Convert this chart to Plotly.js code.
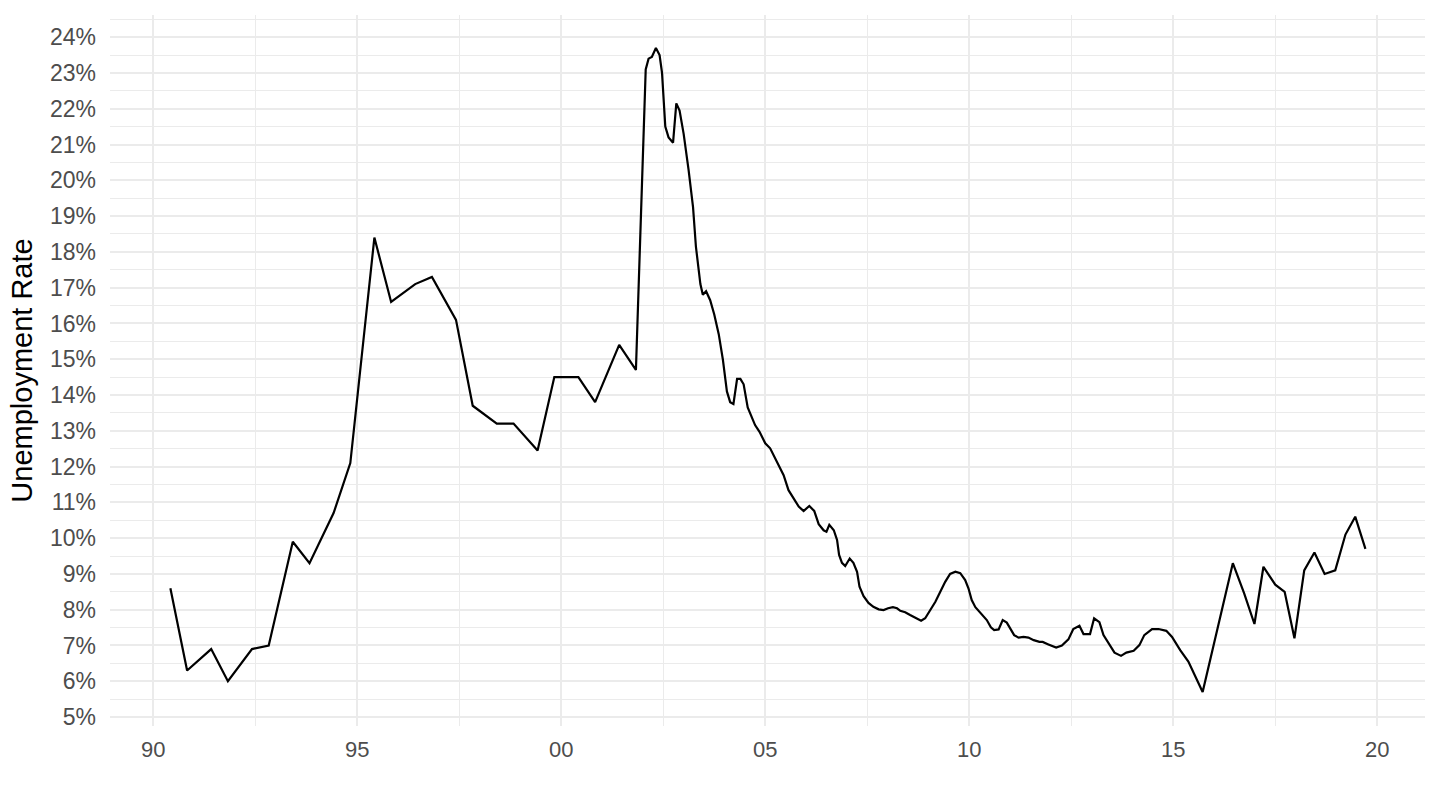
<!DOCTYPE html>
<html>
<head>
<meta charset="utf-8">
<script src="https://cdn.plot.ly/plotly-3.0.1.min.js"></script>
<style>
  html, body { margin: 0; padding: 0; background: #ffffff; }
  #chart { width: 1440px; height: 810px; }
</style>
</head>
<body>
<div id="chart"></div>
<script>
// Decimal-year positions of each observation
const years = [
  1990.42, 1990.83, 1991.42, 1991.83, 1992.42, 1992.83, 1993.42, 1993.83,
  1994.42, 1994.83, 1995.42, 1995.83, 1996.42, 1996.83, 1997.42, 1997.83,
  1998.42, 1998.83, 1999.42, 1999.83, 2000.42, 2000.83, 2001.42, 2001.83,
  2002.07, 2002.14, 2002.22, 2002.32, 2002.41, 2002.47, 2002.55, 2002.63,
  2002.74, 2002.82, 2002.90, 2003.00, 2003.12, 2003.23, 2003.30, 2003.34,
  2003.41, 2003.47, 2003.55, 2003.65, 2003.75, 2003.86, 2003.96, 2004.06,
  2004.14, 2004.22, 2004.31, 2004.39, 2004.47, 2004.57, 2004.75, 2004.86,
  2005.00, 2005.12, 2005.29, 2005.45, 2005.57, 2005.69, 2005.82, 2005.94,
  2006.08, 2006.20, 2006.31, 2006.43, 2006.50, 2006.57, 2006.68, 2006.76,
  2006.81, 2006.88, 2006.96, 2007.07, 2007.16, 2007.25, 2007.31, 2007.41,
  2007.53, 2007.65, 2007.78, 2007.90, 2008.01, 2008.13, 2008.23, 2008.31,
  2008.43, 2008.55, 2008.68, 2008.82, 2008.92, 2009.04, 2009.17, 2009.29,
  2009.41, 2009.53, 2009.66, 2009.78, 2009.90, 2009.98, 2010.06, 2010.15,
  2010.27, 2010.43, 2010.53, 2010.61, 2010.72, 2010.82, 2010.92, 2011.01,
  2011.10, 2011.21, 2011.33, 2011.45, 2011.58, 2011.72, 2011.80, 2011.94,
  2012.13, 2012.27, 2012.43, 2012.55, 2012.70, 2012.80, 2012.96, 2013.06,
  2013.19, 2013.29, 2013.41, 2013.56, 2013.72, 2013.85, 2014.03, 2014.17,
  2014.29, 2014.48, 2014.64, 2014.83, 2014.97, 2015.17, 2015.37, 2015.51,
  2015.72, 2016.46, 2016.74, 2016.99, 2017.21, 2017.50, 2017.73, 2017.97,
  2018.21, 2018.46, 2018.71, 2018.97, 2019.22, 2019.46, 2019.71
];

// Unemployment rate, percent
const unemployment = [
  8.6, 6.3, 6.9, 6.0, 6.9, 7.0, 9.9, 9.3,
  10.7, 12.1, 18.4, 16.6, 17.1, 17.3, 16.1, 13.7,
  13.2, 13.2, 12.45, 14.5, 14.5, 13.8, 15.4, 14.7,
  23.1, 23.4, 23.45, 23.7, 23.5, 23.0, 21.5, 21.2,
  21.05, 22.15, 21.95, 21.3, 20.3, 19.25, 18.15, 17.7,
  17.1, 16.8, 16.9, 16.65, 16.25, 15.7, 15.0, 14.1,
  13.8, 13.75, 14.45, 14.45, 14.3, 13.65, 13.16, 12.97,
  12.65, 12.51, 12.13, 11.76, 11.34, 11.11, 10.88, 10.76,
  10.90, 10.76, 10.39, 10.22, 10.18, 10.37, 10.22, 9.95,
  9.53, 9.31, 9.22, 9.43, 9.31, 9.06, 8.64, 8.38,
  8.19, 8.08, 8.01, 7.99, 8.04, 8.07, 8.04, 7.97,
  7.93, 7.85, 7.77, 7.69, 7.76, 7.97, 8.22, 8.50,
  8.78, 9.00, 9.06, 9.02, 8.83, 8.60, 8.27, 8.07,
  7.91, 7.71, 7.51, 7.43, 7.45, 7.71, 7.64, 7.45,
  7.29, 7.22, 7.24, 7.22, 7.15, 7.10, 7.10, 7.03,
  6.94, 7.00, 7.17, 7.46, 7.55, 7.32, 7.32, 7.76,
  7.65, 7.29, 7.06, 6.80, 6.71, 6.80, 6.85, 7.01,
  7.29, 7.46, 7.46, 7.41, 7.24, 6.87, 6.55, 6.22,
  5.70, 9.3, 8.45, 7.6, 9.2, 8.7, 8.5, 7.2,
  9.1, 9.6, 9.0, 9.1, 10.1, 10.6, 9.7
];

const xTickVals = [1990, 1995, 2000, 2005, 2010, 2015, 2020];
const xTickText = ['90', '95', '00', '05', '10', '15', '20'];
const xMinorVals = [1992.5, 1997.5, 2002.5, 2007.5, 2012.5, 2017.5];

const yTickVals = [5, 6, 7, 8, 9, 10, 11, 12, 13, 14, 15, 16, 17, 18, 19, 20, 21, 22, 23, 24];
const yTickText = yTickVals.map(v => v + '%');

const font = '"Liberation Sans", Arial, Helvetica, sans-serif';

const trace = {
  x: years,
  y: unemployment,
  type: 'scatter',
  mode: 'lines',
  line: { color: '#000000', width: 2.2 },
  hoverinfo: 'x+y'
};

const layout = {
  width: 1440,
  height: 810,
  paper_bgcolor: '#ffffff',
  plot_bgcolor: '#ffffff',
  showlegend: false,
  margin: { l: 110, r: 15, t: 15, b: 84, pad: 0 },
  font: { family: font, color: '#4d4d4d' },
  xaxis: {
    range: [1988.94, 2021.17],
    tickmode: 'array',
    tickvals: xTickVals,
    ticktext: xTickText,
    ticks: '',
    ticklabelstandoff: 8,
    tickfont: { family: font, size: 22, color: '#4d4d4d' },
    showgrid: true,
    gridcolor: '#ebebeb',
    gridwidth: 2,
    zeroline: false,
    showline: false,
    minor: { tickmode: 'array', tickvals: xMinorVals, showgrid: true, gridcolor: '#ebebeb', gridwidth: 1, ticks: '' }
  },
  yaxis: {
    range: [4.75, 24.62],
    tickmode: 'array',
    tickvals: yTickVals,
    ticktext: yTickText,
    ticks: '',
    ticklabelstandoff: 13,
    tickfont: { family: font, size: 23, color: '#4d4d4d' },
    showgrid: true,
    gridcolor: '#ebebeb',
    gridwidth: 2,
    zeroline: false,
    showline: false,
    minor: { dtick: 0.5, tick0: 0, showgrid: true, gridcolor: '#ebebeb', gridwidth: 1, ticks: '' },
    title: { text: 'Unemployment Rate', font: { family: font, size: 29, color: '#000000' }, standoff: 8 }
  }
};

Plotly.newPlot('chart', [trace], layout, { displayModeBar: false, staticPlot: true });
</script>
</body>
</html>
